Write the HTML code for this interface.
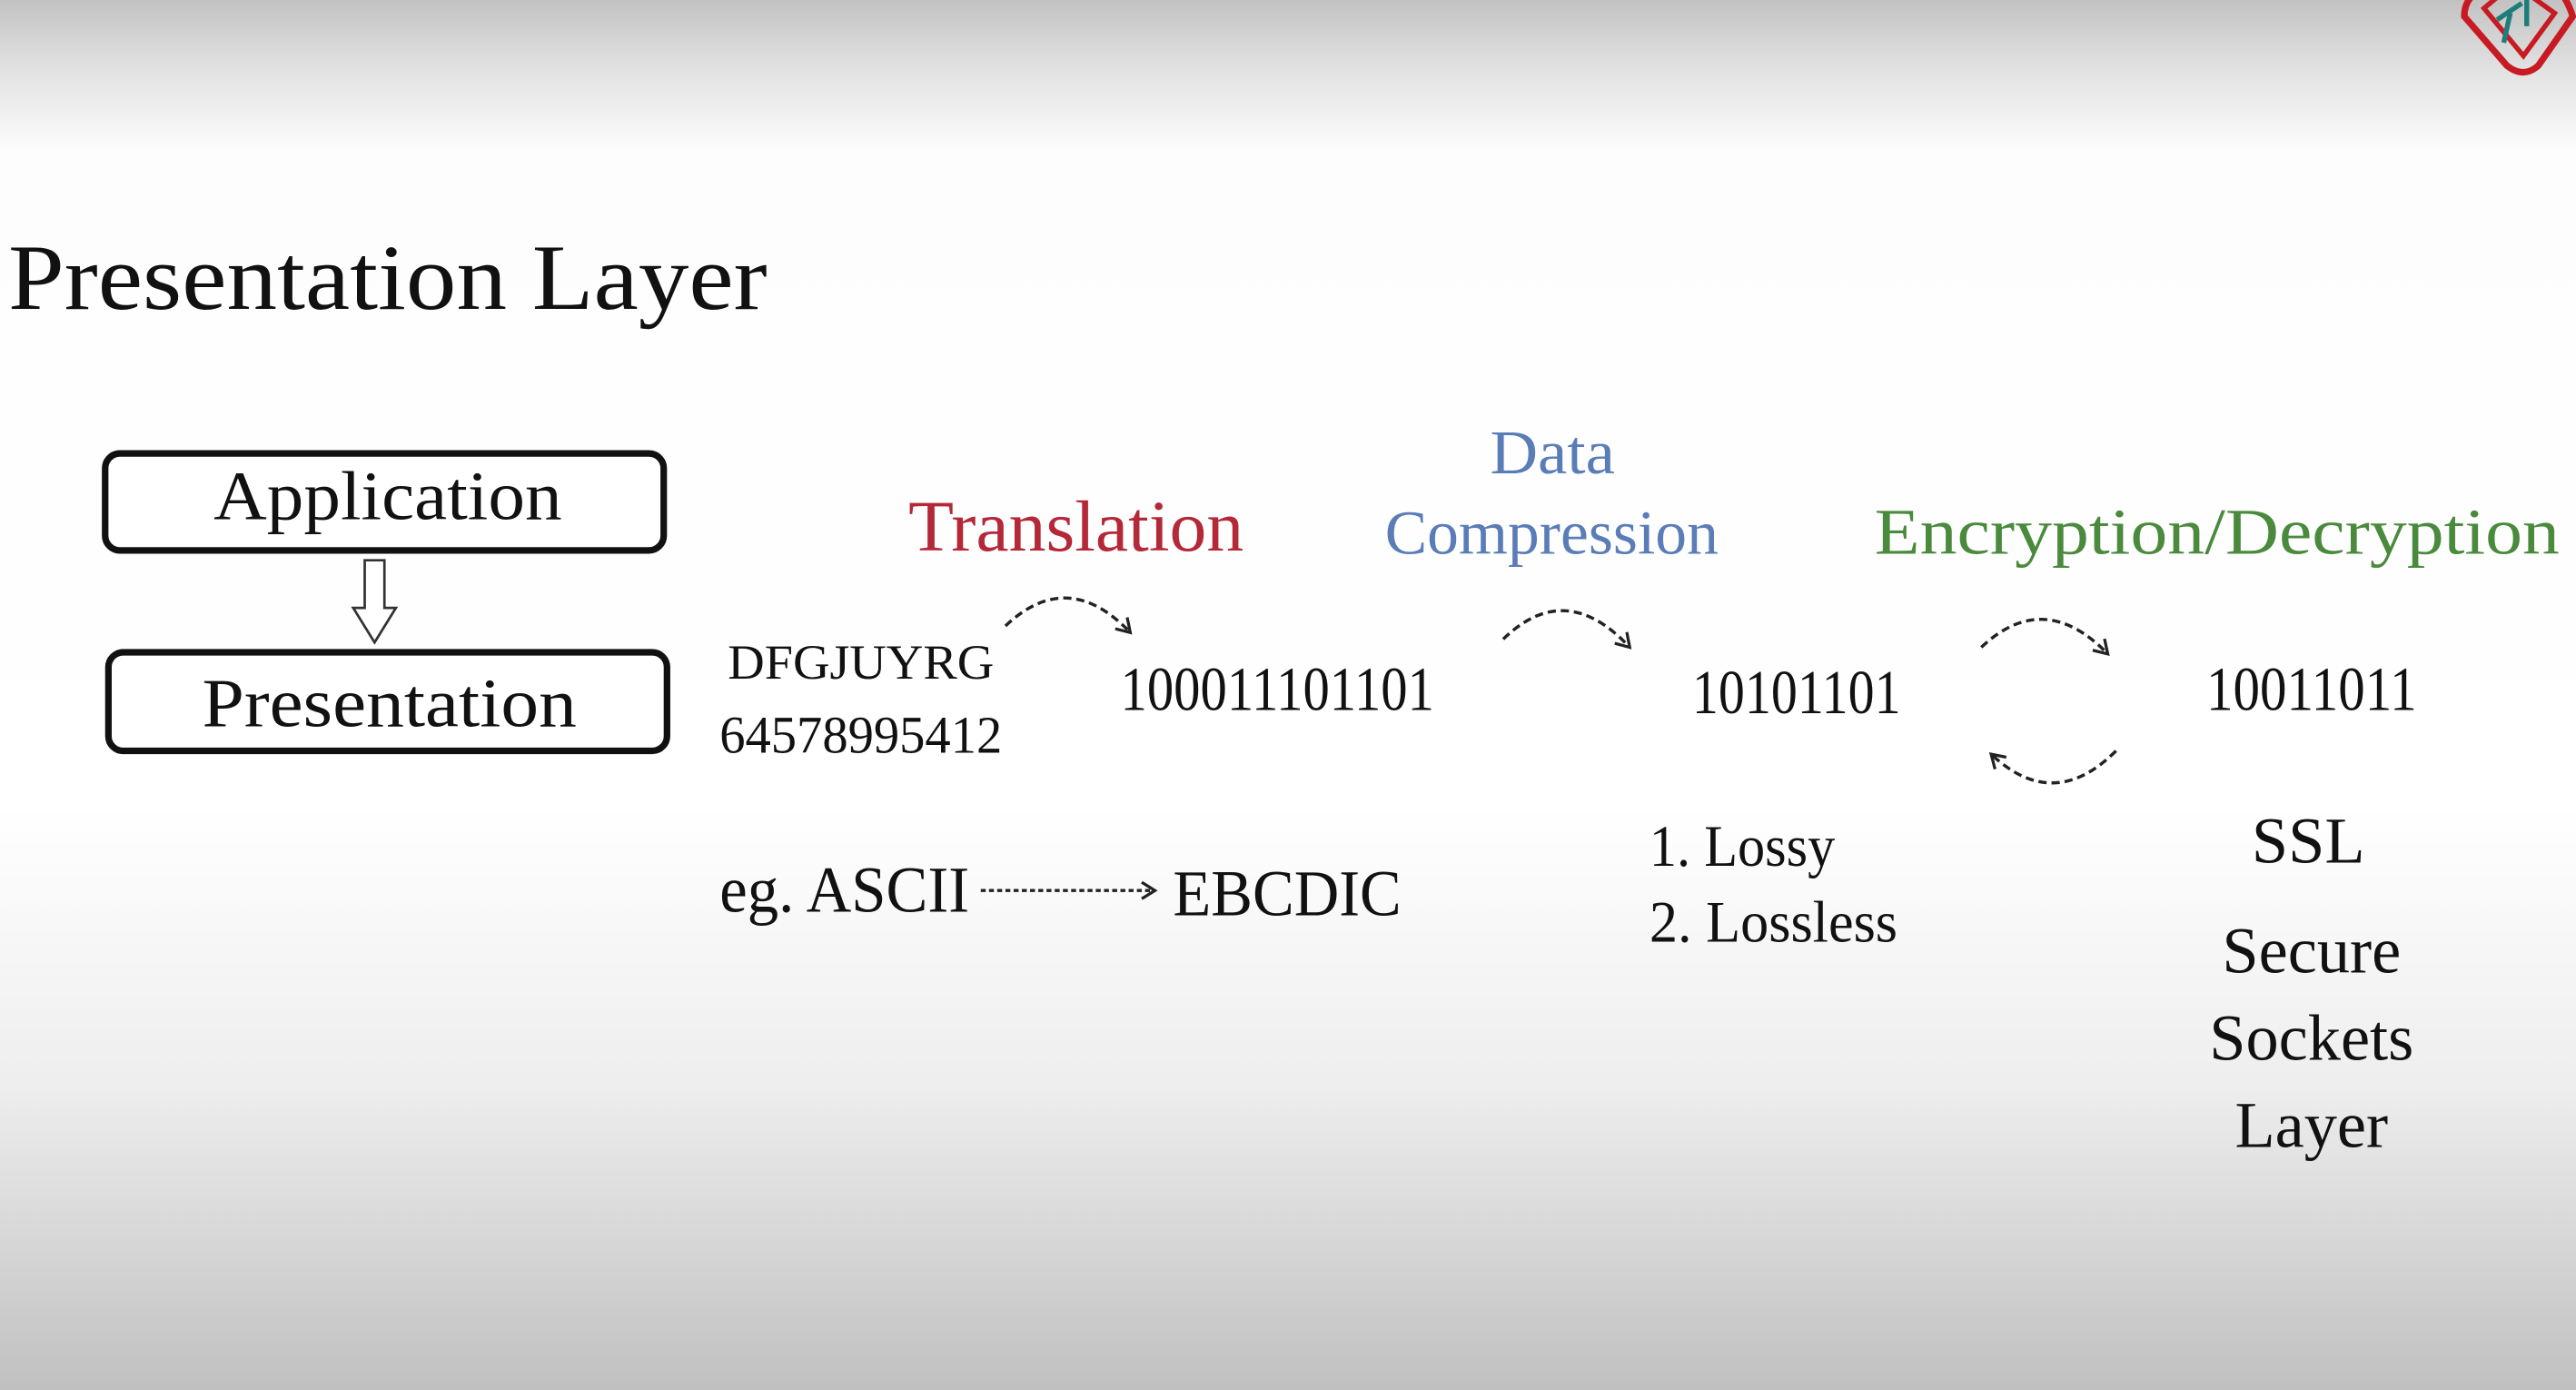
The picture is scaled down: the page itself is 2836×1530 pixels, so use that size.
<!DOCTYPE html>
<html><head><meta charset="utf-8"><style>
html,body{margin:0;padding:0;}
svg{display:block;}
text{font-family:"Liberation Serif",serif;fill:#111;}
</style></head><body>
<svg width="2836" height="1530" viewBox="0 0 1568 846" preserveAspectRatio="none" xmlns="http://www.w3.org/2000/svg">
<defs>
<linearGradient id="bg" x1="0" y1="0" x2="0" y2="1">
<stop offset="0" stop-color="#c2c2c2"/>
<stop offset="0.05" stop-color="#e2e2e2"/>
<stop offset="0.11" stop-color="#fdfdfd"/>
<stop offset="0.58" stop-color="#ffffff"/>
<stop offset="0.78" stop-color="#eeeeee"/>
<stop offset="1" stop-color="#c0c0c0"/>
</linearGradient>
<marker id="ah" markerWidth="12" markerHeight="12" refX="9" refY="6" orient="auto" markerUnits="userSpaceOnUse">
<path d="M1,1 L9,6 L1,11" fill="none" stroke="#222" stroke-width="1.8"/>
</marker>
</defs>
<rect width="1568" height="846" fill="url(#bg)"/>
<g fill="none" stroke="#c81a22" stroke-width="4">
<path d="M1500,10 Q1500,0 1508,-5 L1540,-20 Q1560,-10 1566,10 L1545,40 Q1536,48 1526,40 Z"/>
<path d="M1512,5 L1530,-10 L1555,8 L1536,34 Z" stroke-width="3"/>
</g>
<path d="M1520,12 L1535,2 M1528,8 L1524,26 M1538,0 L1538,16" stroke="#1e7d7a" stroke-width="3" fill="none"/>

<text x="5" y="188" font-size="57" textLength="462" lengthAdjust="spacingAndGlyphs">Presentation Layer</text>

<rect x="64" y="276" width="340" height="59" rx="9" fill="#fff" stroke="#111" stroke-width="4"/>
<text x="236" y="316" font-size="42" text-anchor="middle" textLength="212" lengthAdjust="spacingAndGlyphs">Application</text>
<rect x="66" y="397" width="340" height="60" rx="9" fill="#fff" stroke="#111" stroke-width="4"/>
<text x="237" y="442" font-size="42" text-anchor="middle" textLength="228" lengthAdjust="spacingAndGlyphs">Presentation</text>
<path d="M222,341 L234,341 L234,370 L241,370 L228,391 L215,370 L222,370 Z" fill="#fff" stroke="#333" stroke-width="1.5"/>

<text x="553" y="335" font-size="44" textLength="204" lengthAdjust="spacingAndGlyphs" style="fill:#b42838">Translation</text>
<text x="945" y="288" font-size="38" text-anchor="middle" style="fill:#5a7db8" textLength="76" lengthAdjust="spacingAndGlyphs">Data</text>
<text x="843" y="337" font-size="38" style="fill:#5a7db8" textLength="203" lengthAdjust="spacingAndGlyphs">Compression</text>
<text x="1141" y="337" font-size="40" style="fill:#4a8a3c" textLength="417" lengthAdjust="spacingAndGlyphs">Encryption/Decryption</text>

<text x="443" y="413" font-size="30" textLength="162" lengthAdjust="spacingAndGlyphs">DFGJUYRG</text>
<text x="438" y="458" font-size="32" textLength="172" lengthAdjust="spacingAndGlyphs">64578995412</text>
<text x="682" y="432" font-size="38" textLength="191" lengthAdjust="spacingAndGlyphs">100011101101</text>
<text x="1030" y="434" font-size="38" textLength="127" lengthAdjust="spacingAndGlyphs">10101101</text>
<text x="1343" y="432" font-size="38" textLength="128" lengthAdjust="spacingAndGlyphs">10011011</text>

<g fill="none" stroke="#222" stroke-width="1.9" stroke-dasharray="5,3">
<path d="M612,381 Q650,345 688,385" marker-end="url(#ah)"/>
<path d="M915,389 Q953,352 992,394" marker-end="url(#ah)"/>
<path d="M1206,394 Q1244,358 1283,398" marker-end="url(#ah)"/>
<path d="M1288,457 Q1250,495 1212,459" marker-end="url(#ah)"/>
<path d="M597,542 L703,542" marker-end="url(#ah)" stroke-dasharray="3,2"/>
</g>

<text x="438" y="555" font-size="40" textLength="152" lengthAdjust="spacingAndGlyphs">eg. ASCII</text>
<text x="714" y="557" font-size="40" textLength="139" lengthAdjust="spacingAndGlyphs">EBCDIC</text>

<text x="1004" y="527" font-size="36" textLength="113" lengthAdjust="spacingAndGlyphs">1. Lossy</text>
<text x="1004" y="573" font-size="36" textLength="151" lengthAdjust="spacingAndGlyphs">2. Lossless</text>

<text x="1405" y="525" font-size="40" text-anchor="middle">SSL</text>
<text x="1407" y="592" font-size="40" text-anchor="middle">Secure</text>
<text x="1407" y="645" font-size="40" text-anchor="middle">Sockets</text>
<text x="1407" y="698" font-size="40" text-anchor="middle">Layer</text>
</svg>
</body></html>
